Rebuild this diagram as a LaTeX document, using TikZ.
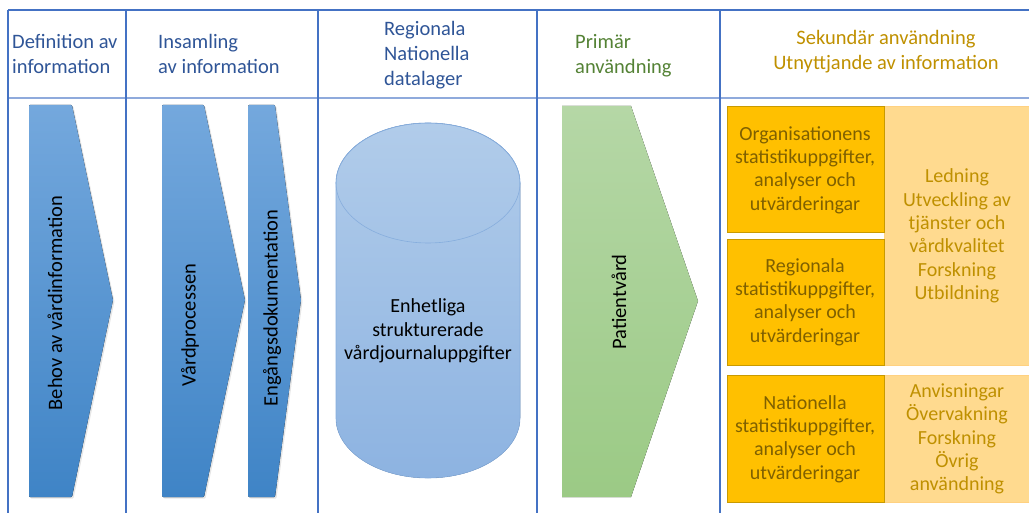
\documentclass[tikz,border=0pt]{standalone}
\usepackage{fontspec}
\setmainfont{Carlito}
\usetikzlibrary{positioning, shadows}
\definecolor{GridA}{HTML}{4472C4}
\definecolor{GridB}{HTML}{8FAADC}
\definecolor{HeadBlue}{HTML}{2F5597}
\definecolor{HeadGreen}{HTML}{548235}
\definecolor{HeadGold}{HTML}{BF9000}
\definecolor{ChevTop}{HTML}{74A8DD}
\definecolor{ChevBot}{HTML}{3F84C6}
\definecolor{CylTop}{HTML}{B1CCEA}
\definecolor{CylBot}{HTML}{8DB3E1}
\definecolor{CylLine}{HTML}{86ADDD}
\definecolor{PatTop}{HTML}{B5D7A6}
\definecolor{PatBot}{HTML}{9BCA85}
\definecolor{OrangeA}{HTML}{FFC000}
\definecolor{OrangeLine}{HTML}{C99A00}
\definecolor{OrangeB}{HTML}{FFDA8F}
\definecolor{OrangeTxt}{HTML}{7F6000}
\definecolor{LightTxt}{HTML}{BF9000}
\tikzset{
  rule/.style={draw=GridA, line width=1.4pt},
  softrule/.style={draw=GridB, line width=1.4pt},
  hdr/.style={align=left, anchor=north west, inner sep=0pt, font=\fontsize{20.5}{25}\selectfont},
  chev/.style={top color=ChevTop, bottom color=ChevBot, rounded corners=1pt,
    drop shadow={opacity=0.2, shadow xshift=1.5pt, shadow yshift=-1.5pt}},
  rottxt/.style={rotate=90, inner sep=0pt, font=\fontsize{20.5}{24}\selectfont},
  txt/.style={align=center, inner sep=0pt, font=\fontsize{20}{23.4}\selectfont},
  darkbox/.style={fill=OrangeA, draw=OrangeLine, line width=0.7pt},
  lightbox/.style={fill=OrangeB, draw=OrangeB!90!orange, line width=0.5pt}
}
\begin{document}
\begin{tikzpicture}[x=1pt, y=-1pt]
  \useasboundingbox (0,0) rectangle (1029,513);

  % table frame
  \draw[softrule] (8,98) -- (1029,98);
  \draw[rule] (8,10) -- (1029,10);
  \foreach \cx in {8,126,318,537,720}
    \draw[rule] (\cx,10) -- (\cx,513);

  % column headings
  \node[hdr, text=HeadBlue] (hdef) at (12,34) {Definition av\\information};
  \node[hdr, text=HeadBlue] (hins) at (158,34) {Insamling\\av information};
  \node[hdr, text=HeadBlue] (hlag) at (384,21) {Regionala\\Nationella\\datalager};
  \node[hdr, text=HeadGreen] (hpri) at (575,34) {Primär\\användning};
  \node[hdr, text=HeadGold, align=center, anchor=north] (hsek) at (886,30) {Sekundär användning\\Utnyttjande av information};

  % blue chevrons
  \fill[chev] (29,105) -- (72,105) -- (113,300) -- (72,497) -- (29,497) -- cycle;
  \fill[chev] (162,105) -- (204,105) -- (245,300) -- (204,497) -- (162,497) -- cycle;
  \fill[chev] (248,105) -- (275,105) -- (301,300) -- (275,497) -- (248,497) -- cycle;
  \node[rottxt] (behov) at (55,303) {Behov av vårdinformation};
  \node[rottxt] (vprocess) at (190,325) {Vårdprocessen};
  \node[rottxt] (engang) at (272,308) {Engångsdokumentation};

  % data store
  \fill[top color=CylTop, bottom color=CylBot, draw=CylLine, line width=0.6pt]
    (336,183) -- (336,418) arc[start angle=180, end angle=0, x radius=92, y radius=60]
    -- (520,183) arc[start angle=0, end angle=-180, x radius=92, y radius=60] -- cycle;
  \draw[CylLine, line width=0.6pt] (428,183) ellipse[x radius=92, y radius=60];
  \node[txt] (lager) at (428,331) {Enhetliga\\strukturerade\\vårdjournaluppgifter};

  % primary use
  \fill[top color=PatTop, bottom color=PatBot] (562,106) -- (631,106) -- (698,301) -- (631,497) -- (562,497) -- cycle;
  \node[rottxt] (patient) at (619,302) {Patientvård};

  % secondary use
  \fill[lightbox] (884,106) rectangle (1031,365);
  \fill[lightbox] (884,375) rectangle (1031,502);
  \draw[darkbox] (727,106) rectangle (884,232);
  \draw[darkbox] (727,239) rectangle (884,365);
  \draw[darkbox] (727,375) rectangle (884,502);
  \node[txt, text=OrangeTxt] (orgstat) at (805,170) {Organisationens\\statistikuppgifter,\\analyser och\\utvärderingar};
  \node[txt, text=OrangeTxt] (regstat) at (805,302) {Regionala\\statistikuppgifter,\\analyser och\\utvärderingar};
  \node[txt, text=OrangeTxt] (natstat) at (805,439) {Nationella\\statistikuppgifter,\\analyser och\\utvärderingar};
  \node[txt, text=LightTxt] (ledning) at (957,236) {Ledning\\Utveckling av\\tjänster och\\vårdkvalitet\\Forskning\\Utbildning};
  \node[txt, text=LightTxt] (anvis) at (957,439) {Anvisningar\\Övervakning\\Forskning\\Övrig\\användning};
\end{tikzpicture}
\end{document}
